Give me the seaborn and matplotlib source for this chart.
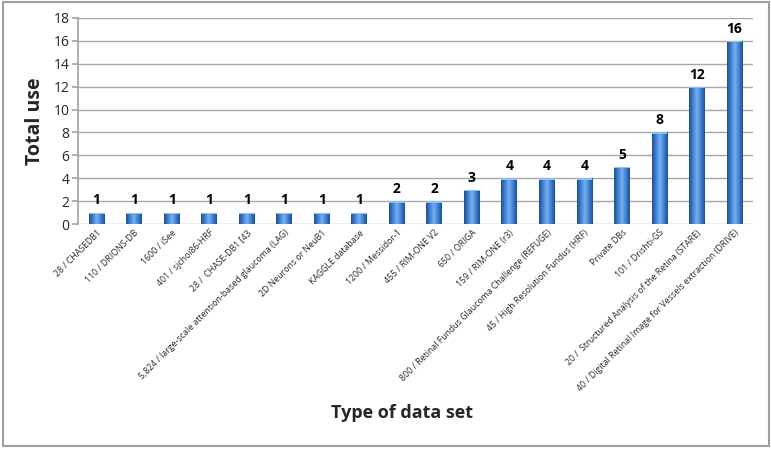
import seaborn as sns
import pandas as pd
import numpy as np
import matplotlib.pyplot as plt
from matplotlib.colors import LinearSegmentedColormap
from matplotlib.patches import Rectangle

datasets = ["28 / CHASEDB1", "110 / DRIONS-DB", "1600 / iSee", "401 / sjchoi86-HRF",
            "28 /  CHASE-DB1 [43", "5,824 / large-scale attention-based glaucoma (LAG)",
            "2D Neurons or NeuB1", "KAGGLE database", "1200 / Messidor-1",
            "455 / RIM-ONE V2", "650 / ORIGA", "159 / RIM-ONE (r3)",
            "800 / Retinal Fundus Glaucoma Challenge (REFUGE)",
            "45 / High Resolution Fundus (HRF)", "Private DBs", "101 / Drishti-GS",
            "20 /  Structured Analysis of the Retina (STARE)",
            "40 / Digital Retinal Image for Vessels extraction (DRIVE)"]
total_use = [1, 1, 1, 1, 1, 1, 1, 1, 2, 2, 3, 4, 4, 4, 5, 8, 12, 16]

df = pd.DataFrame({'dataset': datasets, 'total': total_use})

sns.set_theme(style='white')
plt.rcParams['font.family'] = ['Open Sans', 'DejaVu Sans']

fig = plt.figure(figsize=(7.71, 4.49), dpi=100)
ax = fig.add_axes([0.101, 0.501, 0.876, 0.459])

sns.barplot(data=df, x='dataset', y='total', color='#3b7bcc', width=0.42,
            ax=ax, saturation=1, edgecolor='none')

# cylinder-like shading on each bar
cmap = LinearSegmentedColormap.from_list('cyl', ['#1f4f8f', '#3f82d4', '#78b0ee', '#3f82d4', '#1f4f8f'])
grad = np.linspace(0, 1, 64).reshape(1, -1)
for p in ax.patches:
    x0, y0 = p.get_x(), p.get_y()
    w, h = p.get_width(), p.get_height()
    im = ax.imshow(grad, cmap=cmap, aspect='auto', extent=[x0, x0 + w, y0, y0 + h],
                   zorder=p.get_zorder() + 0.1)
    im.set_clip_path(p)
    ax.add_patch(Rectangle((x0, y0 + h - 0.12), w, 0.12, color='#8cc0f2',
                           zorder=p.get_zorder() + 0.2, lw=0))

for i, v in enumerate(total_use):
    ax.text(i, v + 0.45, str(v), ha='center', va='bottom', fontsize=10,
            fontweight='bold', color='black')

ax.set_xlim(-0.5, len(datasets) - 0.5)
ax.set_ylim(0, 18)
ax.set_yticks(range(0, 19, 2))
ax.yaxis.grid(True, color='#a6a6a6', lw=1)
ax.set_axisbelow(True)
for s in ['top', 'right', 'bottom']:
    ax.spines[s].set_visible(False)
ax.spines['left'].set_color('#a6a6a6')
ax.tick_params(axis='y', labelsize=10, length=4, color='#a6a6a6', left=True, pad=2)
ax.tick_params(axis='x', labelsize=6.3, length=0, pad=3)
plt.setp(ax.get_xticklabels(), rotation=45, ha='right', rotation_mode='anchor')
ax.set_ylabel('Total use', fontsize=14, fontweight='bold', labelpad=6)
ax.set_xlabel('')
fig.text(0.522, 0.08, 'Type of data set', ha='center', va='center', fontsize=13,
         fontweight='bold')

fig.patches.append(Rectangle((0.004, 0.006), 0.993, 0.99, transform=fig.transFigure,
                             fill=False, edgecolor='#a0a0a0', lw=1.5))

fig.savefig('out.png', dpi=100, facecolor='white')
